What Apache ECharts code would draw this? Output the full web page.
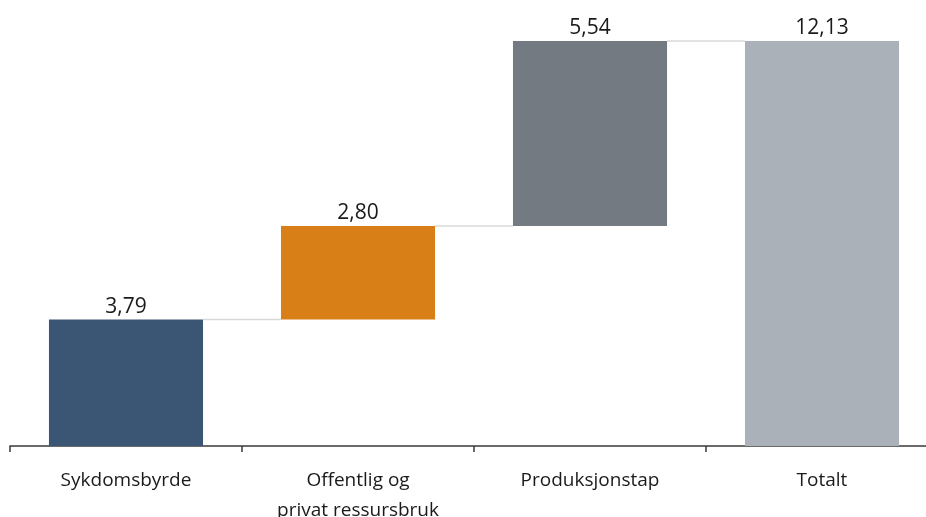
<!DOCTYPE html>
<html>
<head>
<meta charset="utf-8">
<script src="https://cdn.jsdelivr.net/npm/echarts@6/dist/echarts.min.js"></script>
<style>
  html, body { margin: 0; padding: 0; background: #fff; }
  #chart { width: 926px; height: 517px; }
</style>
</head>
<body>
<div id="chart"></div>
<script>
// Waterfall: three components stacking up to a total
const categories = ['Sykdomsbyrde', 'Offentlig og\nprivat ressursbruk', 'Produksjonstap', 'Totalt'];
const values = [3.79, 2.80, 5.54, 12.13];
const isTotal = [false, false, false, true];
const colors = ['#3b5674', '#d97f18', '#737a82', '#abb1b8'];

const BAR_RATIO = 0.664;

// Invisible offsets so each step starts where the previous ended
const bases = [];
let running = 0;
values.forEach((v, i) => {
  if (isTotal[i]) { bases.push(0); running = v; }
  else { bases.push(running); running += v; }
});
const tops = values.map((v, i) => bases[i] + v);

const fmt = v => v.toFixed(2).replace('.', ',');

const chart = echarts.init(document.getElementById('chart'));
chart.setOption({
  animation: false,
  grid: {
    left: 10, width: 928, top: 41, bottom: 71,
    containLabel: false, outerBoundsMode: 'none'
  },
  xAxis: {
    type: 'category',
    data: categories,
    axisLine: { lineStyle: { color: '#3a3a3a', width: 1.5 } },
    axisTick: { show: true, length: 6, lineStyle: { color: '#3a3a3a', width: 1.5 } },
    axisLabel: {
      color: '#1a1a1a', fontFamily: 'Open Sans', fontSize: 19,
      margin: 20, lineHeight: 30, interval: 0
    }
  },
  yAxis: {
    type: 'value', min: 0, max: 12.13, show: false,
    splitLine: { show: false }
  },
  series: [
    {
      type: 'bar', stack: 'w', barWidth: (BAR_RATIO * 100) + '%',
      itemStyle: { color: 'transparent' },
      emphasis: { disabled: true },
      data: bases
    },
    {
      type: 'bar', stack: 'w', barWidth: (BAR_RATIO * 100) + '%',
      data: values.map((v, i) => ({ value: v, itemStyle: { color: colors[i] } })),
      label: {
        show: true, position: 'top', distance: 2,
        color: '#1a1a1a', fontFamily: 'Open Sans', fontSize: 21,
        formatter: p => fmt(p.value)
      }
    },
    {
      // connector lines between neighbouring bars
      type: 'custom',
      silent: true,
      data: tops.slice(0, -1).map((t, i) => [i, t]),
      renderItem: (params, api) => {
        const i = api.value(0);
        const level = api.value(1);
        const band = api.size([1, 0])[0];
        const half = band * BAR_RATIO / 2;
        const p1 = api.coord([i, level]);
        const p2 = api.coord([i + 1, level]);
        return {
          type: 'line',
          shape: { x1: p1[0] + half, y1: p1[1], x2: p2[0] - half, y2: p2[1] },
          style: { stroke: '#d9d9d9', lineWidth: 1.5 }
        };
      }
    }
  ]
});
</script>
</body>
</html>
